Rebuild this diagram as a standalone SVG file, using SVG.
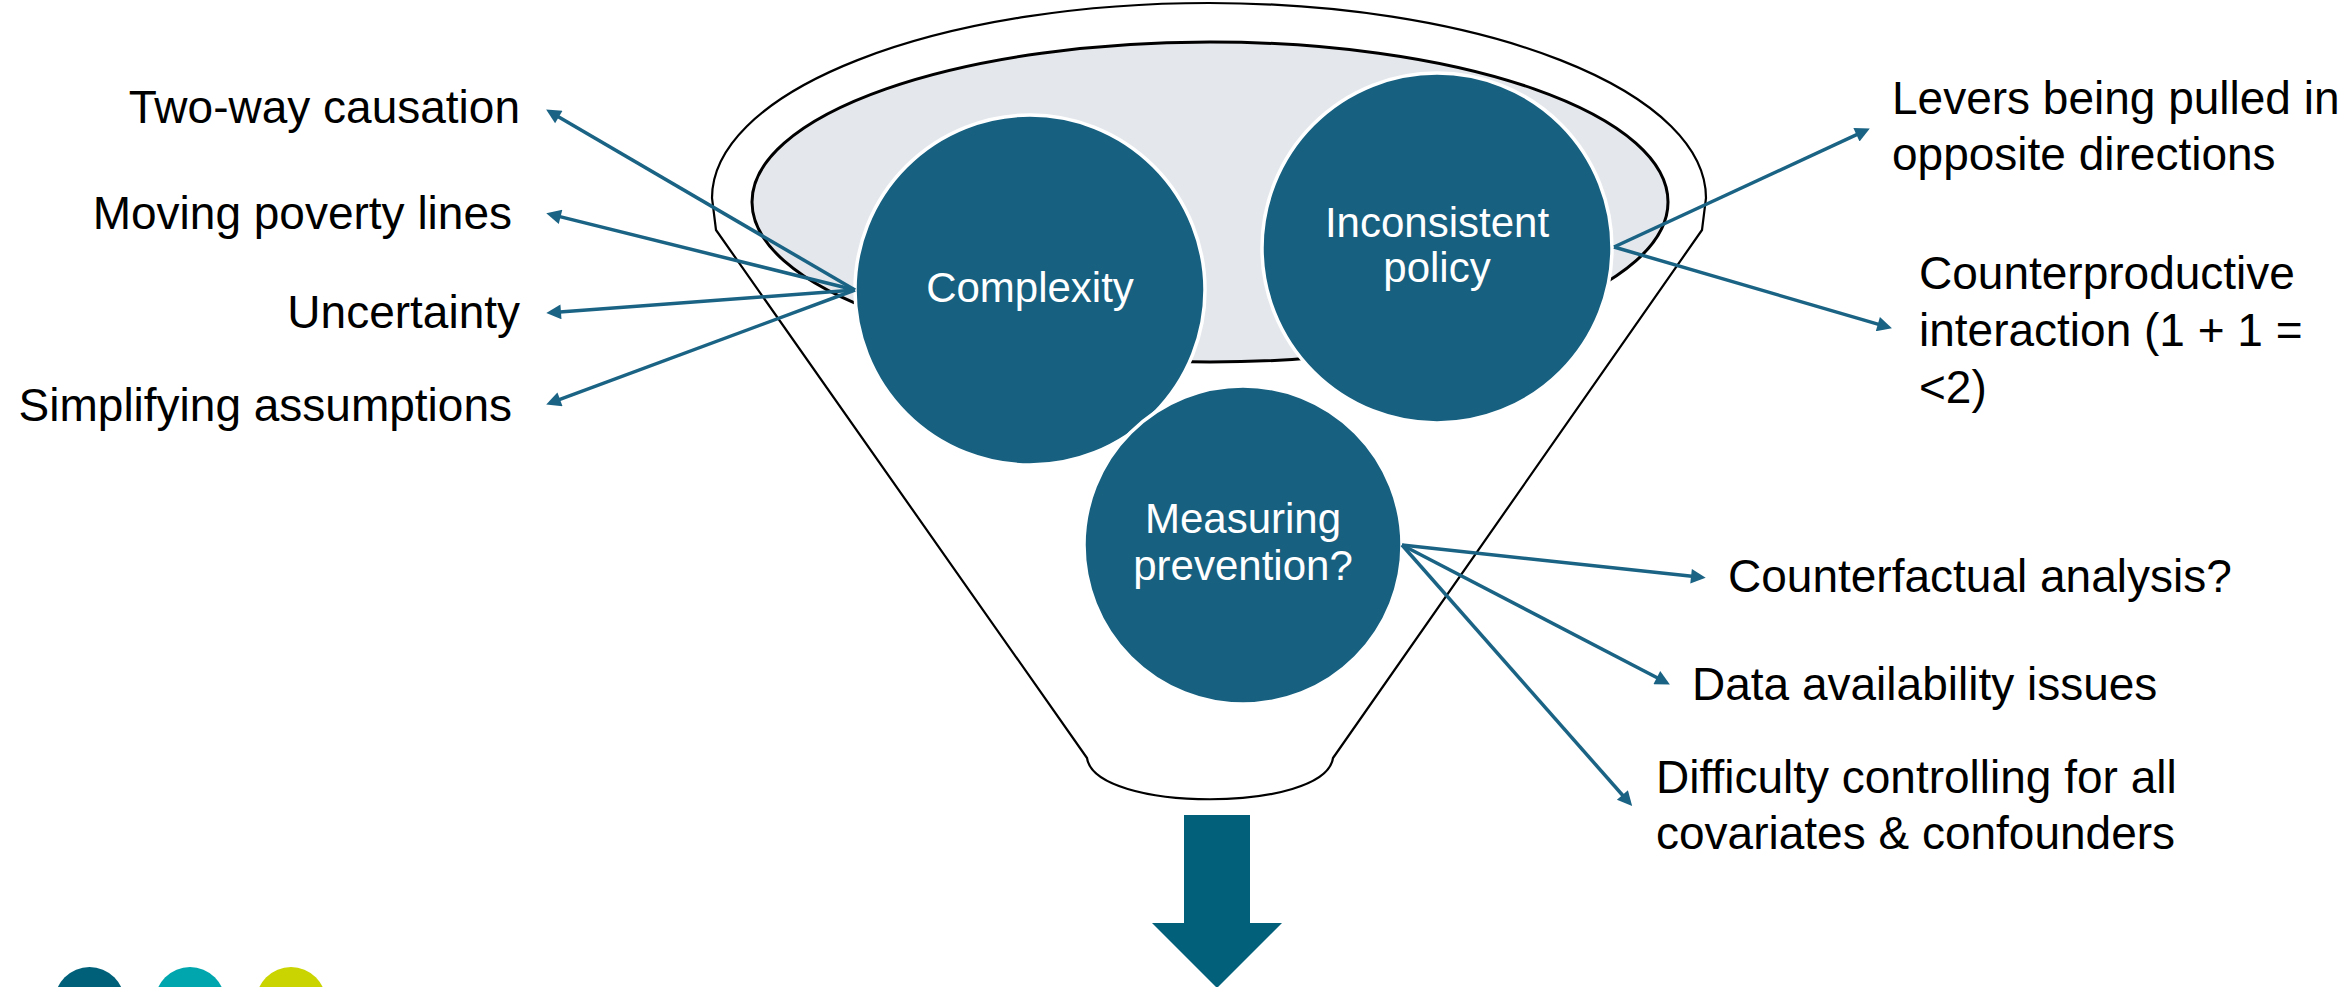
<svg xmlns="http://www.w3.org/2000/svg" width="2344" height="987" viewBox="0 0 2344 987">
<style>
.lbl{font-family:"Liberation Sans",Arial,sans-serif;font-size:46px;fill:#000}
.cl{font-family:"Liberation Sans",Arial,sans-serif;font-size:42px;fill:#fff;text-anchor:middle}
.node{fill:#176080;stroke:#fff;stroke-width:3.5}
.conn{stroke:#1A6384;stroke-width:3.5;fill:none;marker-end:url(#ah)}
</style>
<defs>
<marker id="ah" viewBox="0 0 10 10" refX="5.43" refY="5" markerWidth="5" markerHeight="4.2" orient="auto" markerUnits="strokeWidth">
<path d="M0,0 L10,5 L0,10 z" fill="#1A6384"/>
</marker>
</defs>
<rect width="2344" height="987" fill="#fff"/>
<g id="funnel">
<path d="M716,230 L712,198 A497,195 0 0 1 1706,198 L1702,230 L1333,758 C1325,813 1095,813 1087,758 Z" fill="#fff" stroke="#000" stroke-width="2.2"/>
<ellipse cx="1210" cy="202" rx="458" ry="160" fill="#E4E7EC" stroke="#000" stroke-width="3"/>
</g>
<g id="node-complexity">
<circle class="node" cx="1030" cy="290" r="175"/>
<text class="cl" x="1030" y="302">Complexity</text>
</g>
<g id="node-inconsistent">
<circle class="node" cx="1437" cy="248" r="175"/>
<text class="cl" x="1437" y="237">Inconsistent</text>
<text class="cl" x="1437" y="282">policy</text>
</g>
<g id="node-measuring">
<circle class="node" cx="1243" cy="545" r="159"/>
<text class="cl" x="1243" y="533">Measuring</text>
<text class="cl" x="1243" y="580">prevention?</text>
</g>
<g id="connectors">
<line class="conn" x1="855" y1="290" x2="551.9" y2="113"/>
<line class="conn" x1="855" y1="290" x2="552.8" y2="214.9"/>
<line class="conn" x1="855" y1="290" x2="553" y2="312.4"/>
<line class="conn" x1="855" y1="290" x2="552.5" y2="402.2"/>
<line class="conn" x1="1614" y1="247" x2="1863.7" y2="131.4"/>
<line class="conn" x1="1614" y1="247" x2="1885.5" y2="326.4"/>
<line class="conn" x1="1402" y1="545" x2="1699" y2="577.1"/>
<line class="conn" x1="1402" y1="545" x2="1663.9" y2="681.3"/>
<line class="conn" x1="1402" y1="545" x2="1627.7" y2="801"/>
</g>
<g id="labels-left">
<text class="lbl" x="520" y="123" text-anchor="end">Two-way causation</text>
<text class="lbl" x="512" y="229" text-anchor="end">Moving poverty lines</text>
<text class="lbl" x="520" y="328" text-anchor="end">Uncertainty</text>
<text class="lbl" x="512" y="421" text-anchor="end">Simplifying assumptions</text>
</g>
<g id="labels-right">
<text class="lbl" x="1892" y="114">Levers being pulled in</text>
<text class="lbl" x="1892" y="170">opposite directions</text>
<text class="lbl" x="1919" y="289">Counterproductive</text>
<text class="lbl" x="1919" y="346">interaction (1 + 1 =</text>
<text class="lbl" x="1919" y="403">&lt;2)</text>
<text class="lbl" x="1728" y="592">Counterfactual analysis?</text>
<text class="lbl" x="1692" y="700">Data availability issues</text>
<text class="lbl" x="1656" y="793">Difficulty controlling for all</text>
<text class="lbl" x="1656" y="849">covariates &amp; confounders</text>
</g>
<g id="down-arrow">
<path d="M1184,815 L1250,815 L1250,923 L1282,923 L1217,988 L1152,923 L1184,923 Z" fill="#02607A"/>
</g>
<g id="dots">
<circle cx="89.5" cy="1002" r="35" fill="#00607A"/>
<circle cx="190" cy="1002" r="35" fill="#00A6AE"/>
<circle cx="291" cy="1002" r="35" fill="#C9D400"/>
</g>
</svg>
